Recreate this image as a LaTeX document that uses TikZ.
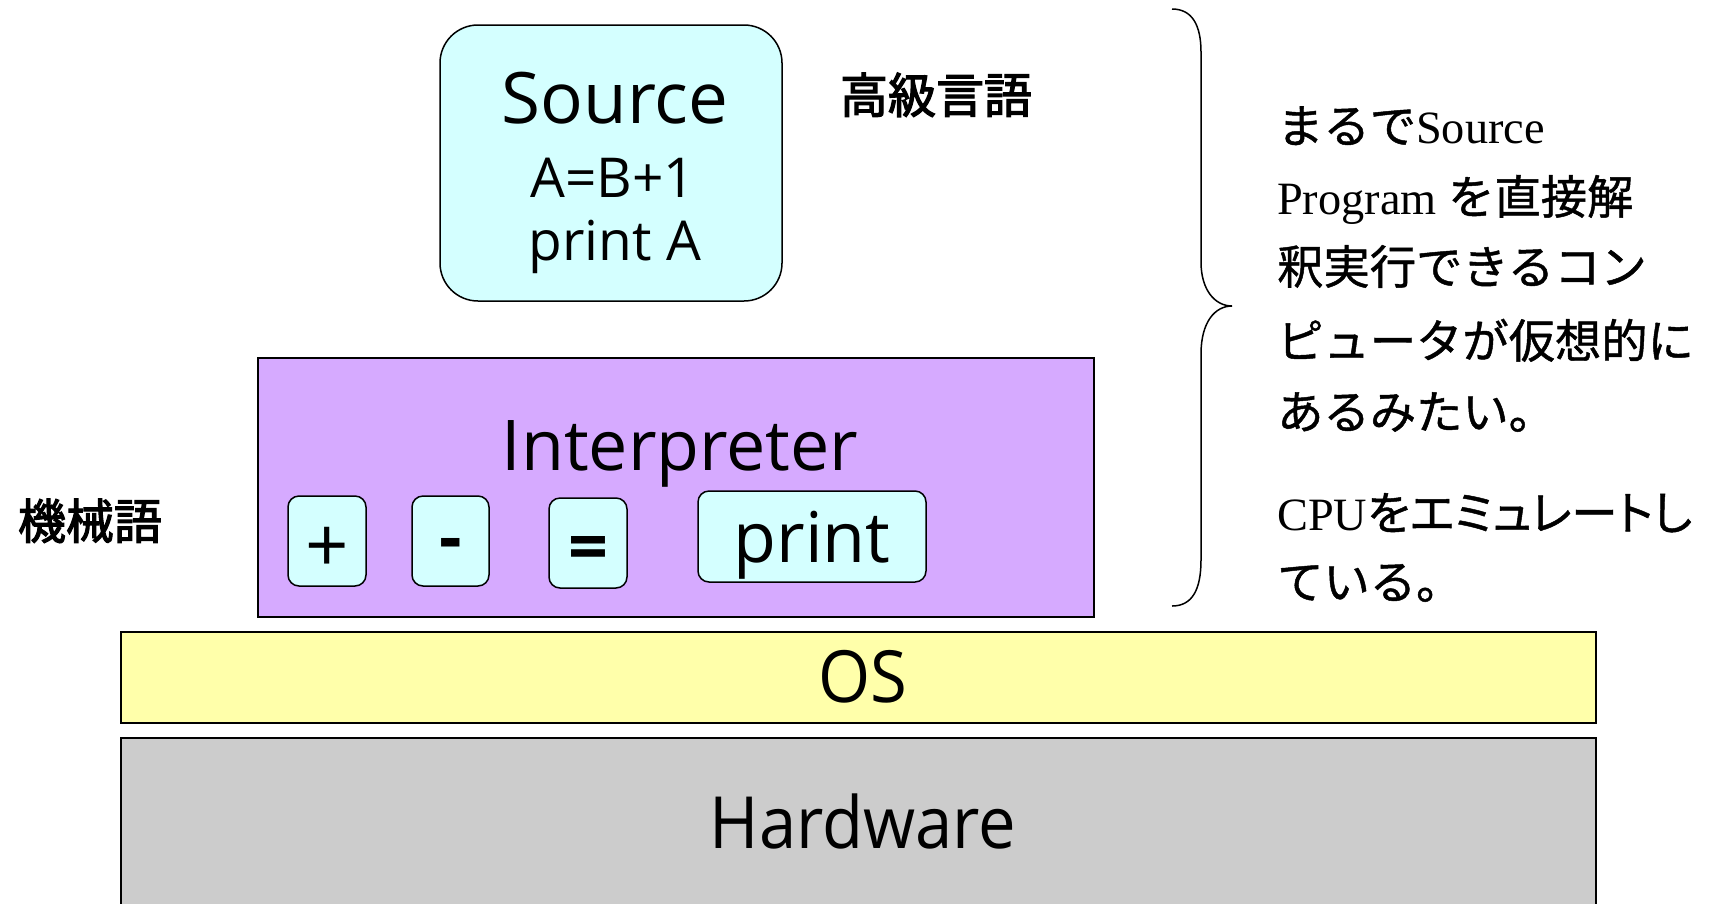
\documentclass[tikz,border=0pt]{standalone}
\usepackage{fontspec}
\setmainfont{Liberation Serif}
\newfontfamily\jp[FakeBold=1]{Noto Sans CJK JP}
\newfontfamily\jpp[FakeBold=1,RawFeature=+palt]{Noto Sans CJK JP}
\newfontfamily\jpb[FakeBold=2.5]{Noto Sans CJK JP}
\newfontfamily\bx{Open Sans}
\definecolor{cyanfill}{RGB}{212,255,255}
\definecolor{lavfill}{RGB}{214,170,255}
\definecolor{yelfill}{RGB}{255,255,170}
\definecolor{grayfill}{RGB}{204,204,204}
\begin{document}
\begin{tikzpicture}[x=1pt,y=-1pt,
  boxline/.style={draw=black, line width=1.5pt, inner sep=0pt},
  layerbox/.style={boxline, rectangle},
  opbox/.style={boxline, fill=cyanfill, rounded corners=11pt},
  bigtxt/.style={inner sep=0pt, anchor=base, font=\bx\fontsize{70}{84}\selectfont},
  midtxt/.style={inner sep=0pt, anchor=base, font=\bx\fontsize{55}{66}\selectfont},
  squeezed/.style={inner sep=0pt, anchor=base, font=\bx\fontsize{72}{86}\selectfont, xscale=0.93},
  jplabel/.style={inner sep=0pt, anchor=base, font=\jpb\fontsize{48}{58}\selectfont},
  note/.style={inner sep=0pt, anchor=base west, font=\fontsize{46.3}{56}\selectfont}
]
\useasboundingbox (0,0) rectangle (1712,903);
\clip (0,0) rectangle (1712,903);

% layers
\node[layerbox, fill=grayfill, minimum width=1475pt, minimum height=174pt] (hw) at (858.5,825) {};
\node[layerbox, fill=yelfill, minimum width=1475pt, minimum height=91pt] (os) at (858.5,677.5) {};
\node[layerbox, fill=lavfill, minimum width=836pt, minimum height=259pt] (interp) at (676,487.5) {};
\node[boxline, fill=cyanfill, rounded corners=38pt, minimum width=342pt, minimum height=276pt] (src) at (611,163) {};

% source text
\node[bigtxt, font=\bx\fontsize{71}{86}\selectfont] (srct) at (615,123) {Source};
\node[midtxt] (srcl1) at (613,197) {A=B+1};
\node[midtxt] (srcl2) at (615,260) {print A};

% interpreter
\node[bigtxt] (interpt) at (680,470) {Interpreter};
\node[opbox, minimum width=78pt, minimum height=90pt] (plus) at (327,541) {};
\node[opbox, minimum width=77pt, minimum height=90pt] (minus) at (450.5,541) {};
\node[opbox, minimum width=78pt, minimum height=90pt] (eq) at (588,543) {};
\node[opbox, minimum width=228pt, minimum height=91pt] (prt) at (812,536.5) {};
\node[bigtxt, font=\bx\fontsize{76}{90}\selectfont] (plust) at (plus.center |- 0,572) {+};
\node[bigtxt, font=\bx\bfseries\fontsize{70}{84}\selectfont] (minust) at (minus.center |- 0,561) {-};
\node[bigtxt, font=\bx\bfseries\fontsize{70}{84}\selectfont] (eqt) at (eq.center |- 0,571) {=};
\node[bigtxt] (prtt) at (prt.center |- 0,562) {print};

% OS / Hardware
\node[squeezed] (ost) at (863,702) {OS};
\node[squeezed] (hwt) at (863,848) {Hardware};

% side labels
\node[jplabel] (koukyu) at (936,113) {高級言語};
\node[jplabel] (kikai) at (90,539) {機械語};

% brace
\draw[line width=1.5pt] (1172,9) .. controls (1192,9) and (1201,25) .. (1201,52)
  -- (1201,262) .. controls (1201,290) and (1215,306) .. (1232,306)
  .. controls (1215,306) and (1201,322) .. (1201,354)
  -- (1201,560) .. controls (1201,590) and (1192,606) .. (1172,606);

% note text
\node[note] (n1) at (1277,143) {{\jp まるで}Source};
\node[note] (n2) at (1277,214) {Program {\jp を直接解}};
\node[note] (n3) at (1277,284) {\jp 釈実行できるコン};
\node[note] (n4) at (1277,358) {\jp ピュータが仮想的に};
\node[note] (n5) at (1277,429) {\jp あるみたい。};
\node[note] (n6) at (1277,530) {CPU{\jpp をエミュレートし}};
\node[note] (n7) at (1277,599) {\jp ている。};
\end{tikzpicture}
\end{document}
